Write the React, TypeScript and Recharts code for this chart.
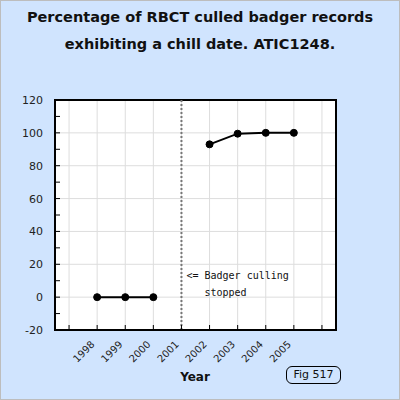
import {
  CartesianGrid,
  ComposedChart,
  Line,
  ReferenceArea,
  ReferenceLine,
  XAxis,
  YAxis,
} from "recharts";

const years = [1998, 1999, 2000, 2001, 2002, 2003, 2004, 2005];
const chilledPct = [0, 0, 0, null, 93, 99.5, 100, 100];

const xTicks = [1997, 1998, 1999, 2000, 2001, 2002, 2003, 2004, 2005, 2006];
const labelledYears = [1998, 1999, 2000, 2001, 2002, 2003, 2004, 2005];
const yTicks = [-20, -10, 0, 10, 20, 30, 40, 50, 60, 70, 80, 90, 100, 110, 120];
const yGrid = [-20, 0, 20, 40, 60, 80, 100, 120];

const chartData = years.map((year, i) => ({ year, pct: chilledPct[i] }));

const FONT = "'DejaVu Sans', Verdana, sans-serif";

const LeftTick = (props: any) => {
  const { x, y, payload } = props;
  return (
    <g>
      <line x1={x} x2={x + 5} y1={y} y2={y} stroke="#000" />
      {payload.value % 20 === 0 && (
        <text x={x - 12} y={y + 4} textAnchor="end" fontSize={11} fill="#222" fontFamily={FONT}>
          {payload.value}
        </text>
      )}
    </g>
  );
};

const RightTick = (props: any) => {
  const { x, y, payload } = props;
  return (
    <g>
      <line x1={x} x2={x - 5} y1={y} y2={y} stroke="#000" />
      {payload.value % 20 === 0 && (
        <text x={x + 9} y={y + 4} textAnchor="start" fontSize={11} fill="#222" fontFamily={FONT}>
          {payload.value}
        </text>
      )}
    </g>
  );
};

const BottomTick = (props: any) => {
  const { x, y, payload } = props;
  const show = labelledYears.includes(payload.value);
  const tx = x - 2;
  const ty = y + 15;
  return (
    <g>
      <line x1={x} x2={x} y1={y} y2={y - 5} stroke="#000" />
      {show && (
        <text
          x={tx}
          y={ty}
          textAnchor="end"
          fontSize={10}
          fill="#222"
          fontFamily={FONT}
          transform={`rotate(-45, ${tx}, ${ty})`}
        >
          {payload.value}
        </text>
      )}
    </g>
  );
};

const CullNote = (props: any) => {
  const { viewBox } = props;
  const x = viewBox.x;
  const y = viewBox.y;
  return (
    <g fontFamily="'DejaVu Sans Mono', monospace" fontSize={10} fill="#111">
      <text x={x + 5} y={y + 179}>{"<= Badger culling"}</text>
      <text x={x + 23} y={y + 196}>stopped</text>
    </g>
  );
};

export default function App() {
  return (
    <div
      style={{
        position: "absolute",
        left: 0,
        top: 0,
        width: 400,
        height: 400,
        background: "#d0e4fe",
        boxSizing: "border-box",
        border: "1px solid #bdbdbd",
        overflow: "hidden",
        fontFamily: FONT,
      }}
    >
      <div
        style={{
          position: "absolute",
          left: 0,
          top: 3,
          width: 398,
          textAlign: "center",
          fontWeight: "bold",
          fontSize: 14.5,
          lineHeight: "27px",
          color: "#111",
        }}
      >
        Percentage of RBCT culled badger records
        <br />
        exhibiting a chill date. ATIC1248.
      </div>
      <div style={{ position: "absolute", left: -1, top: -1 }}>
        <ComposedChart
          width={400}
          height={400}
          data={chartData}
          margin={{ top: 100, right: 0, bottom: 0, left: 0 }}
        >
          <CartesianGrid
            yAxisId="left"
            fill="#fff"
            stroke="#dddddd"
            horizontalValues={yGrid}
            verticalValues={xTicks}
          />
          <XAxis
            dataKey="year"
            type="number"
            domain={[1996.5, 2006.5]}
            ticks={xTicks}
            interval={0}
            allowDataOverflow
            height={70}
            tickSize={0}
            tickMargin={0}
            tickLine={false}
            axisLine={{ stroke: "#000", strokeWidth: 2 }}
            tick={<BottomTick />}
          />
          <YAxis
            yAxisId="left"
            orientation="left"
            width={55}
            domain={[-20, 120]}
            ticks={yTicks}
            interval={0}
            tickSize={0}
            tickMargin={0}
            tickLine={false}
            axisLine={{ stroke: "#000", strokeWidth: 2 }}
            tick={<LeftTick />}
          />
          <YAxis
            yAxisId="right"
            orientation="right"
            width={64}
            domain={[-20, 120]}
            ticks={yTicks}
            interval={0}
            tickSize={0}
            tickMargin={0}
            tickLine={false}
            axisLine={{ stroke: "#000", strokeWidth: 2 }}
            tick={<RightTick />}
          />
          <ReferenceArea
            yAxisId="left"
            x1={1996.5}
            x2={2006.5}
            y1={-20}
            y2={120}
            fill="none"
            fillOpacity={0}
            stroke="#000"
            strokeWidth={2}
          />
          <ReferenceLine
            yAxisId="left"
            x={2001}
            stroke="#777"
            strokeWidth={2}
            strokeDasharray="2 2"
            label={<CullNote />}
          />
          <Line
            yAxisId="left"
            dataKey="pct"
            stroke="#000"
            strokeWidth={2}
            dot={{ r: 3.5, fill: "#000", stroke: "#000", strokeWidth: 1 }}
            connectNulls={false}
            isAnimationActive={false}
          />
        </ComposedChart>
      </div>
      <div
        style={{
          position: "absolute",
          left: 0,
          width: 388,
          top: 369,
          textAlign: "center",
          fontWeight: "bold",
          fontSize: 12,
          color: "#111",
        }}
      >
        Year
      </div>
      <div
        style={{
          position: "absolute",
          left: 285,
          top: 365,
          width: 55,
          height: 18,
          boxSizing: "border-box",
          border: "1px solid #000",
          borderRadius: 6,
          fontSize: 11,
          lineHeight: "16px",
          textAlign: "center",
          color: "#111",
        }}
      >
        Fig 517
      </div>
    </div>
  );
}
